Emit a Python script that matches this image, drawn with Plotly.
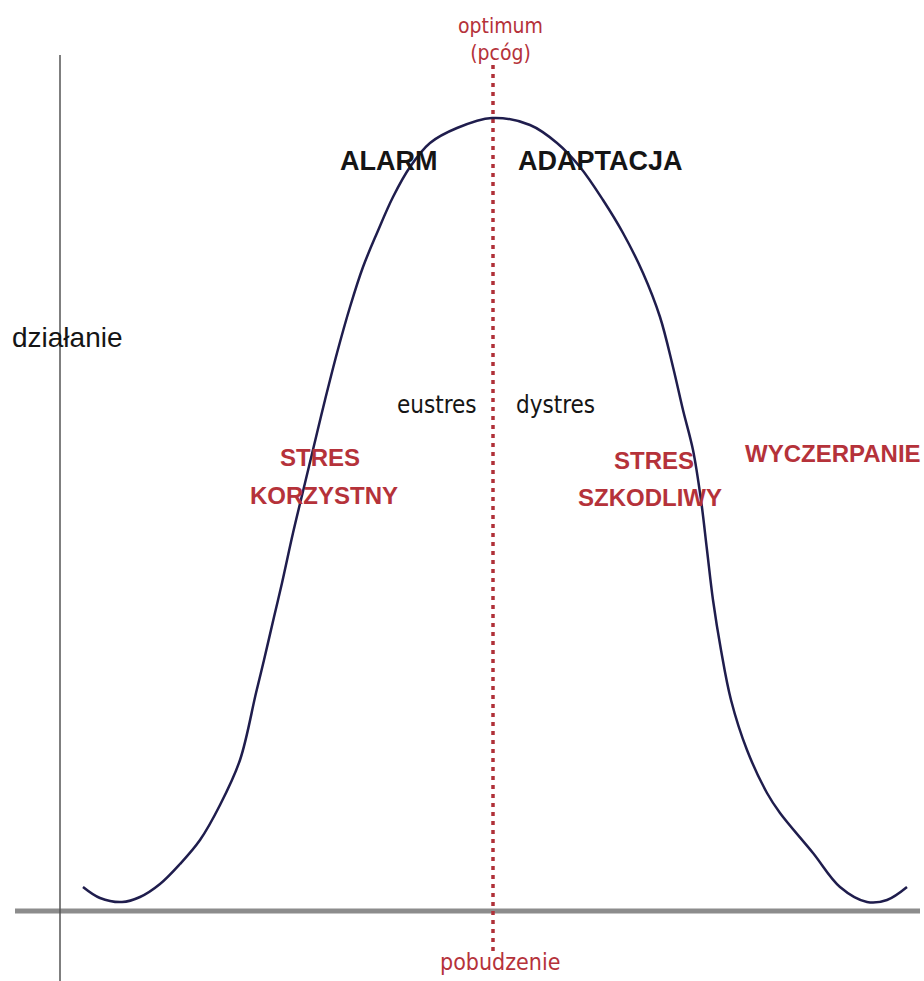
import plotly.graph_objects as go

# Curve (arousal -> performance)
curve_x = [23, 40, 62, 80, 100, 120, 140, 160, 180, 196, 204, 214, 222, 233, 245, 257, 265, 277, 290, 303,
           317, 333, 350, 370, 397, 432, 470, 497, 520, 543, 563, 583, 600, 613, 623, 633, 641, 647, 653,
           661, 671, 687, 707, 720, 753, 780, 807, 827, 847]
curve_y = [24, 13, 9, 14, 27, 47, 71, 106, 151, 218, 251, 294, 328, 378, 428, 478, 511, 558, 604, 644,
           678, 714, 744, 768, 783, 793, 786, 768, 744, 711, 678, 638, 594, 544, 501, 461, 411, 361, 311,
           261, 211, 161, 118, 98, 58, 24, 9, 11, 24]

# Axes extents and optimum line
x_axis_x = [-45, 860]
x_axis_y = [0, 0]
y_axis_x = [0, 0]
y_axis_y = [-75, 856]
opt_x = [433, 433]
opt_y = [-40, 848]

RED = "#b5323a"
BLACK = "#151515"
HAND = "DejaVu Sans Condensed, DejaVu Sans"
BOLD = "Liberation Sans, Arial"

# labels: text, x, y, color, family, size, bold
labels = [
    ("optimum<br>(pcóg)", 440, 872, RED, HAND, 21, False),
    ("ALARM", 328, 750, BLACK, BOLD, 27, True),
    ("ADAPTACJA", 540, 750, BLACK, BOLD, 27, True),
    ("działanie", 7, 574, BLACK, BOLD, 28, False),
    ("eustres", 377, 506, BLACK, HAND, 24, False),
    ("dystres", 495, 506, BLACK, HAND, 24, False),
    ("STRES", 260, 454, RED, BOLD, 24, True),
    ("KORZYSTNY", 264, 416, RED, BOLD, 24, True),
    ("STRES", 594, 451, RED, BOLD, 24, True),
    ("SZKODLIWY", 590, 414, RED, BOLD, 24, True),
    ("WYCZERPANIE", 773, 458, RED, BOLD, 24, True),
    ("pobudzenie", 440, -51, RED, HAND, 23, False),
]

fig = go.Figure()
fig.add_trace(go.Scatter(x=x_axis_x, y=x_axis_y, mode="lines",
                         line=dict(color="#8c8c8c", width=5), hoverinfo="skip"))
fig.add_trace(go.Scatter(x=y_axis_x, y=y_axis_y, mode="lines",
                         line=dict(color="#555555", width=1.5), hoverinfo="skip"))
fig.add_trace(go.Scatter(x=opt_x, y=opt_y, mode="lines",
                         line=dict(color="#b03038", width=3.5, dash="4px,5px"), hoverinfo="skip"))
fig.add_trace(go.Scatter(x=curve_x, y=curve_y, mode="lines",
                         line=dict(color="#1f1d4d", width=2.5, shape="spline", smoothing=1.0)))

for text, x, y, color, fam, size, bold in labels:
    fig.add_annotation(x=x, y=y, xref="x", yref="y", showarrow=False,
                       text=f"<b>{text}</b>" if bold else text,
                       font=dict(color=color, family=fam, size=size),
                       xanchor="center", yanchor="middle")

fig.update_layout(
    width=924, height=981,
    margin=dict(l=0, r=0, t=0, b=0),
    paper_bgcolor="white", plot_bgcolor="white",
    showlegend=False,
    xaxis=dict(range=[-60, 864], visible=False, fixedrange=True),
    yaxis=dict(range=[-70, 911], visible=False, fixedrange=True),
)

fig.write_html("out.html", config={"displayModeBar": False},
               post_script="document.body.style.margin='0px';document.body.style.padding='0px';")
